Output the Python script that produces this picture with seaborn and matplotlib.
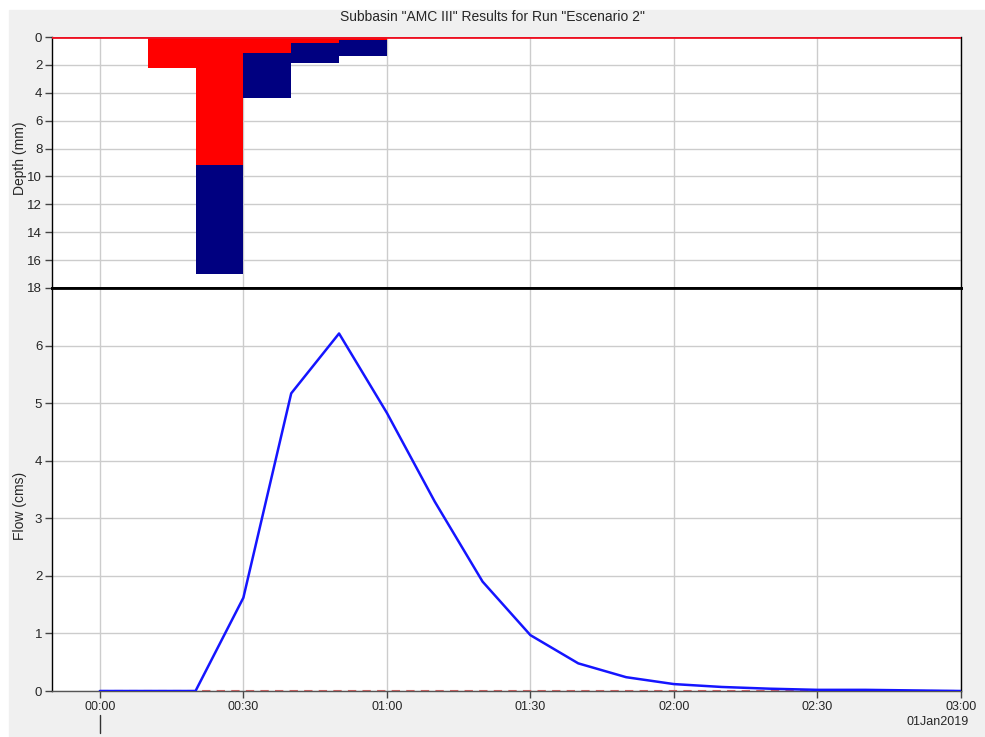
import matplotlib
matplotlib.use("Agg")
import matplotlib.pyplot as plt
from matplotlib.patches import Rectangle
import seaborn as sns
import numpy as np
import pandas as pd

# ---- data ----
bar_start_min = [10, 20, 30, 40, 50]
loss_mm = [2.2, 9.2, 1.15, 0.43, 0.24]
excess_mm = [0.0, 7.8, 3.2, 1.45, 1.1]

flow_time_min = [0, 10, 20, 30, 40, 50, 60, 70, 80, 90, 100, 110, 120,
                 130, 140, 150, 160, 170, 180]
flow_cms = [0.0, 0.0, 0.0, 1.62, 5.17, 6.21, 4.83, 3.29, 1.90, 0.97, 0.48,
            0.24, 0.12, 0.07, 0.04, 0.02, 0.02, 0.01, 0.0]
baseflow_cms = [0.0] * len(flow_time_min)

xtick_min = [0, 30, 60, 90, 120, 150, 180]
xtick_labels = ["00:00", "00:30", "01:00", "01:30", "02:00", "02:30", "03:00"]
depth_ticks = list(range(0, 19, 2))
flow_ticks = list(range(0, 7))
title = 'Subbasin "AMC III" Results for Run "Escenario 2"'
date_label = "01Jan2019"

sns.set_theme(style="white")
plt.rcParams['font.family'] = ['Liberation Sans', 'DejaVu Sans']

W, H = 985, 737
fig = plt.figure(figsize=(W / 100, H / 100), dpi=100, facecolor="white")
fig.patches.append(Rectangle((9 / W, 0), 1 - 9 / W, 1 - 10 / H,
                             transform=fig.transFigure, color="#f0f0f0",
                             zorder=-10))

left = 52 / W
right = 961 / W
top1 = 1 - 37 / H
mid = 1 - 288 / H
bot = 1 - 691 / H

ax1 = fig.add_axes([left, mid, right - left, top1 - mid])
ax2 = fig.add_axes([left, bot, right - left, mid - bot])

grid_kw = dict(color="#cccccc", linewidth=1.0)
for ax in (ax1, ax2):
    ax.set_facecolor("white")
    ax.set_xlim(-10, 180)
    ax.set_xticks(xtick_min)
    ax.grid(True, **grid_kw)
    ax.set_axisbelow(True)
    for s in ax.spines.values():
        s.set_color("black")
        s.set_linewidth(1.0)
    ax.tick_params(axis="y", direction="out", length=5, width=1,
                   color="#444444", labelsize=9.5, pad=2, left=True)
    ax.tick_params(axis="x", direction="out", length=5, width=1,
                   color="#444444", labelsize=9, pad=2, bottom=True)

# ---- top: precipitation ----
ax1.bar(bar_start_min, loss_mm, width=10, align="edge", color="#ff0000",
        linewidth=0, zorder=3)
ax1.bar(bar_start_min, excess_mm, width=10, align="edge", bottom=loss_mm,
        color="#000080", linewidth=0, zorder=3)
ax1.axhline(0, color="#ee1122", linewidth=2, zorder=4)
ax1.set_ylim(18, 0)
ax1.set_yticks(depth_ticks)
ax1.set_xticklabels([])
ax1.tick_params(axis="x", length=0)
ax1.set_ylabel("Depth (mm)", fontsize=10)
ax1.spines["bottom"].set_linewidth(2.0)
ax1.spines["top"].set_visible(False)

# ---- bottom: flow ----
df = pd.DataFrame({"t": flow_time_min, "flow": flow_cms,
                   "base": baseflow_cms})
sns.lineplot(data=df, x="t", y="base", ax=ax2, color="#c06060",
             linewidth=1.5, linestyle=(0, (4, 3)), zorder=3)
sns.lineplot(data=df, x="t", y="flow", ax=ax2, color="#1515ff",
             linewidth=1.8, zorder=4)
ax2.set_ylim(0, 7)
ax2.set_yticks(flow_ticks)
ax2.set_xticklabels(xtick_labels)
ax2.set_xlabel("")
ax2.set_ylabel("Flow (cms)", fontsize=10)
ax2.spines["top"].set_linewidth(2.0)
ax2.spines["bottom"].set_color("#555555")

ax1.yaxis.set_label_coords((27 - 52) / 909, 0.518)
ax2.yaxis.set_label_coords((27 - 52) / 909, 0.459)

fig.text(0.5, 1 - 17 / H, title, ha="center", va="center", fontsize=10)
fig.text(938 / W, 1 - 722 / H, date_label, ha="center", va="center",
         fontsize=9)
fig.lines.append(plt.Line2D([100 / W, 100 / W], [1 - 715 / H, 1 - 733 / H],
                            transform=fig.transFigure, color="#333333",
                            linewidth=1))

fig.savefig("out.png", dpi=100, facecolor=fig.get_facecolor())
